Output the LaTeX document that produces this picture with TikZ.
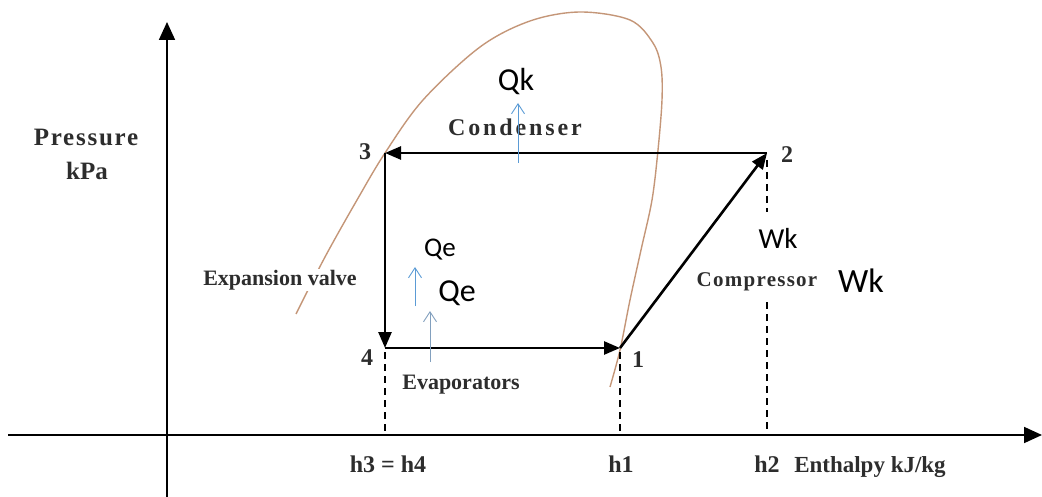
\documentclass[tikz,border=0pt]{standalone}
\usepackage{fontspec}
\setmainfont{Liberation Serif}
\newfontfamily\calfont{Carlito}
\newfontfamily\spacedserif[LetterSpace=12]{Liberation Serif}
\newfontfamily\lightspaced[LetterSpace=7]{Liberation Serif}
\newfontfamily\compspaced[LetterSpace=6]{Liberation Serif}
\usetikzlibrary{arrows.meta}
\definecolor{domebrown}{RGB}{196,150,120}
\definecolor{qblue}{RGB}{91,155,213}
\definecolor{qgrey}{RGB}{130,160,190}
\definecolor{txtgrey}{RGB}{45,45,45}
\tikzset{
  serlbl/.style={font=\bfseries\fontsize{22}{24}\selectfont, text=txtgrey, inner sep=1pt},
  numlbl/.style={font=\bfseries\fontsize{24}{26}\selectfont, text=txtgrey, inner sep=1pt},
  sanslbl/.style={font=\calfont\fontsize{#1}{#1}\selectfont, text=black, inner sep=1pt},
  cycarrow/.style={line width=2.6pt, -{Triangle[length=16pt,width=13pt]}},
  axisarrow/.style={line width=1.8pt, -{Triangle[length=18pt,width=16pt]}},
  dashln/.style={line width=1.6pt, dash pattern=on 7pt off 5pt},
  qarrow/.style={line width=0.9pt, -{Straight Barb[length=10pt,width=13pt]}},
  dome/.style={draw=domebrown, line width=1.4pt},
}
\begin{document}
\begin{tikzpicture}[x=1pt,y=-1pt]
\useasboundingbox (0,0) rectangle (1042,497);
% axes
\coordinate (ybot) at (167,497);
\coordinate (ytop) at (167,22);
\coordinate (xleft) at (8,435);
\coordinate (xright) at (1042,435);
\draw[axisarrow] (ybot) -- (ytop);
\draw[axisarrow] (xleft) -- (xright);
% dome curve
\draw[dome] plot[smooth, tension=0.55] coordinates {(296,314) (325,257) (357,200) (385,153) (423,100) (480,47) (530,21) (580,12) (630,20) (653,43) (661,67) (662,100) (658,150) (652,200) (641,250) (630,300) (620,350) (610,387)};
% cycle points
\coordinate (p3) at (385,153);
\coordinate (p2) at (767,153);
\coordinate (p4) at (385,348);
\coordinate (p1) at (620,348);
\coordinate (h3) at (385,435);
\coordinate (h1) at (620,435);
\coordinate (h2) at (767,435);
\coordinate (p2a) at (767,160);
\coordinate (p2b) at (767,212);
\coordinate (p2c) at (767,302);
\coordinate (p4a) at (385,352);
\coordinate (p1a) at (620,352);
% dashed drop lines
\draw[dashln] (p4a) -- (h3);
\draw[dashln] (p1a) -- (h1);
\draw[dashln] (p2a) -- (p2b);
\draw[dashln] (p2c) -- (h2);
% cycle
\draw[cycarrow] (p2) -- (p3);
\draw[cycarrow] (p3) -- (p4);
\draw[cycarrow] (p4) -- (p1);
\draw[cycarrow] (p1) -- (p2);
% labels
\node[serlbl, font=\lightspaced\bfseries\fontsize{25}{26}\selectfont] (pres) at (86,137) {Pressure};
\node[serlbl, font=\bfseries\fontsize{25}{26}\selectfont] (kpa) at (87,171) {kPa};
\node[serlbl, font=\spacedserif\bfseries\fontsize{24}{26}\selectfont] (cond) at (515,127) {Condenser};
\node[serlbl, fill=white] (expv) at (280,280) {Expansion valve};
\node[serlbl] (evap) at (461,385) {Evaporators};
\node[serlbl, font=\compspaced\bfseries\fontsize{21}{22}\selectfont] (comp) at (757,282) {Compressor};
\node[numlbl] (n3) at (365,152) {3};
\node[numlbl] (n2) at (787,155) {2};
\node[numlbl] (n4) at (367,358) {4};
\node[numlbl] (n1) at (638,360) {1};
\node[numlbl] (lh3) at (388,464) {h3 = h4};
\node[numlbl] (lh1) at (621,464) {h1};
\node[numlbl] (lh2) at (767,464) {h2};
\node[serlbl, font=\bfseries\fontsize{23}{24}\selectfont] (enth) at (870,467) {Enthalpy kJ/kg};
\node[sanslbl=32] (qk) at (516,82) {Qk};
\node[sanslbl=27] (qe1) at (440,250) {Qe};
\node[sanslbl=32] (qe2) at (457,293) {Qe};
\node[sanslbl=29] (wk1) at (778,238) {Wk};
\node[sanslbl=34] (wk2) at (861,281) {Wk};
% heat arrows
\coordinate (qka) at (518,163);
\coordinate (qkb) at (518,103);
\coordinate (qea) at (415,306);
\coordinate (qeb) at (415,267);
\coordinate (qec) at (430,362);
\coordinate (qed) at (430,311);
\draw[qarrow, qblue] (qka) -- (qkb);
\draw[qarrow, qblue] (qea) -- (qeb);
\draw[qarrow, qgrey] (qec) -- (qed);
\end{tikzpicture}
\end{document}
